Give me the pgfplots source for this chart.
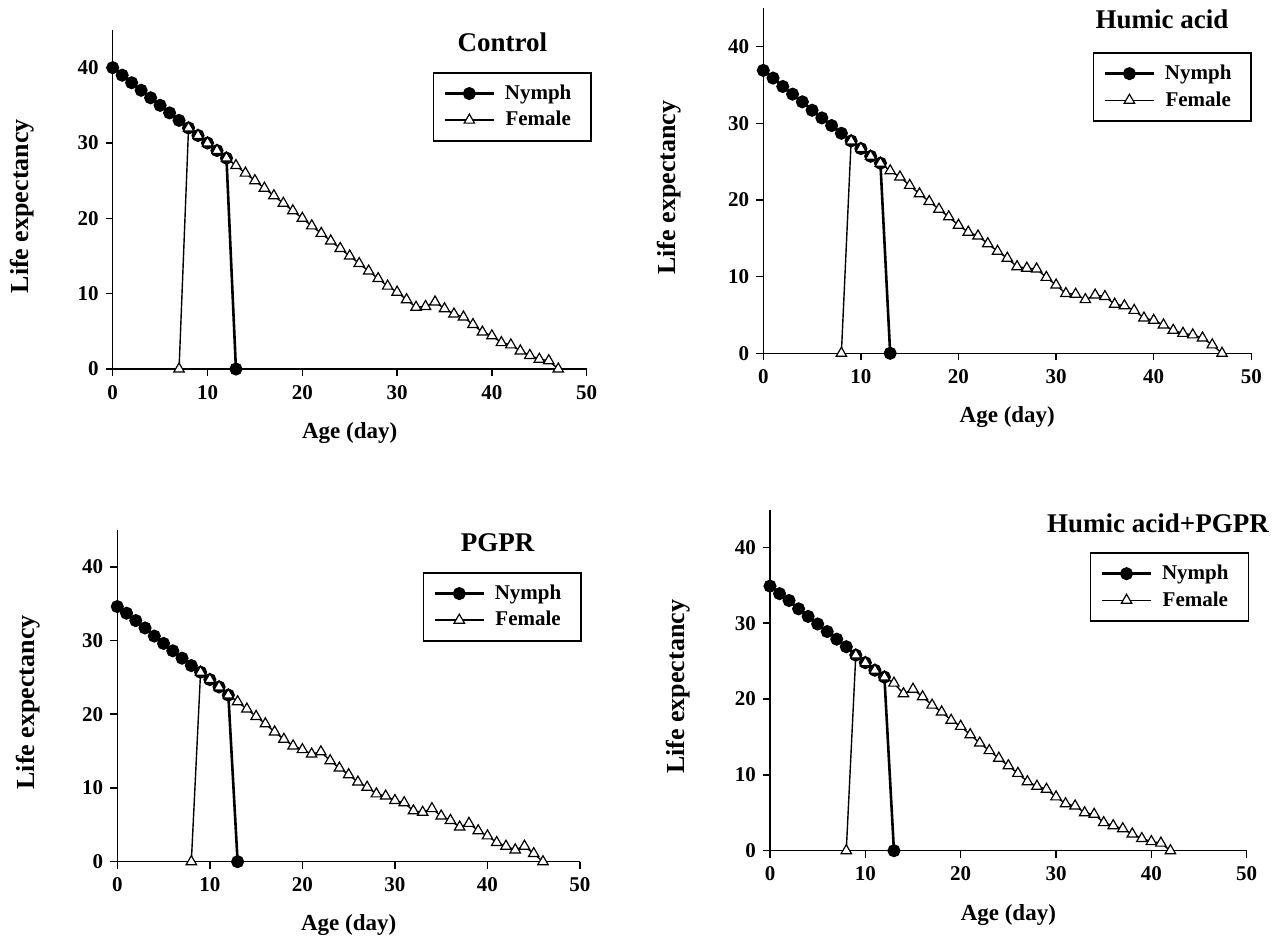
\documentclass[border=0pt]{standalone}
\usepackage{fontspec}
\setmainfont{Liberation Serif}
\usepackage{pgfplots}
\pgfplotsset{compat=1.18}

\newcommand{\ticfont}{\fontsize{10.5}{12}\selectfont\bfseries}
\newcommand{\legfont}{\fontsize{10.5}{12}\selectfont\bfseries}
\newcommand{\ttlfont}{\fontsize{13.5}{15}\selectfont\bfseries}
\newcommand{\leg}[1]{\makebox[39pt][c]{#1}}

\pgfplotsset{lifeplot/.style={
  scale only axis, axis lines=left, axis line style={-, line width=0.75pt},
  xmin=0, xmax=50, ymin=0, ymax=45,
  xtick={0,10,...,50}, ytick={0,10,...,40},
  tick align=outside, major tick length=3.5pt, tick style={black, line width=0.75pt},
  /pgf/number format/assume math mode=true,
  tick label style={font=\ticfont},
  xticklabel style={yshift=-1pt},
  xlabel={Age (day)}, ylabel={Life expectancy},
  xlabel style={font=\fontsize{11.5}{13}\selectfont\bfseries, at={(axis description cs:0.5,0)}, anchor=center, yshift=-32pt},
  ylabel style={font=\fontsize{13}{15}\selectfont\bfseries, at={(axis description cs:-0.192,0.48)}, anchor=center},
  clip=false,
  legend style={font=\legfont, draw=black, line width=0.75pt, anchor=north east, inner xsep=5pt, inner ysep=4pt, row sep=0.5pt},
  legend cell align=center,
  legend image code/.code={\draw[mark repeat=2, mark phase=2] plot coordinates {(0pt,0pt) (12.25pt,0pt) (24.5pt,0pt)};},
  nymph/.style={black, line width=1.3pt, mark=*, mark size=2.6pt, mark options={solid, fill=black}},
  female/.style={black, line width=0.7pt, mark=triangle*, mark size=3pt, mark options={solid, fill=white, line width=0.6pt}}
}}

\begin{document}
\begin{tikzpicture}
\useasboundingbox (0,0) rectangle (643.5pt,469pt);

% Control
\begin{axis}[lifeplot, at={(56.35pt,284.5pt)}, anchor=south west, width=237pt, height=169.5pt,
  legend style={at={(1.011,0.876)}}]
\addplot[nymph] coordinates {(0,40) (1,39) (2,38) (3,37) (4,36) (5,35) (6,34) (7,33) (8,32) (9,31) (10,30) (11,29) (12,28) (13,0)};
\addlegendentry{\leg{Nymph}}
\addplot[female] coordinates {(7,0) (8,32) (9,31) (10,30) (11,29) (12,28) (13,27) (14,26) (15,25) (16,24) (17,23) (18,22) (19,21) (20,20) (21,19) (22,18) (23,17) (24,16) (25,15) (26,14) (27,13) (28,12) (29,11) (30,10.2) (31,9.2) (32,8.2) (33,8.3) (34,8.9) (35,8.0) (36,7.3) (37,6.9) (38,5.9) (39,4.9) (40,4.4) (41,3.5) (42,3.2) (43,2.4) (44,1.8) (45,1.3) (46,1.1) (47,0)};
\addlegendentry{\leg{Female}}
\node[font=\ttlfont] at (axis cs:41.1,43.4) {Control};
\end{axis}

% Humic acid
\begin{axis}[lifeplot, at={(381.65pt,292.35pt)}, anchor=south west, width=244pt, height=172.5pt,
  legend style={at={(1.0014,0.873)}}]
\addplot[nymph] coordinates {(0,36.9) (1,35.9) (2,34.8) (3,33.8) (4,32.8) (5,31.7) (6,30.7) (7,29.7) (8,28.7) (9,27.7) (10,26.7) (11,25.7) (12,24.8) (13,0)};
\addlegendentry{\leg{Nymph}}
\addplot[female] coordinates {(8,0) (9,27.7) (10,26.7) (11,25.7) (12,24.8) (13,23.8) (14,23.0) (15,21.9) (16,20.8) (17,19.8) (18,18.8) (19,17.8) (20,16.7) (21,15.8) (22,15.3) (23,14.3) (24,13.3) (25,12.4) (26,11.3) (27,11.1) (28,11.0) (29,9.9) (30,8.9) (31,7.8) (32,7.7) (33,7.0) (34,7.6) (35,7.4) (36,6.4) (37,6.2) (38,5.6) (39,4.6) (40,4.3) (41,3.7) (42,3.0) (43,2.6) (44,2.4) (45,2.0) (46,1.1) (47,0)};
\addlegendentry{\leg{Female}}
\node[font=\ttlfont] at (axis cs:40.85,43.5) {Humic acid};
\end{axis}

% PGPR
\begin{axis}[lifeplot, at={(58.65pt,38.15pt)}, anchor=south west, width=231.35pt, height=165.9pt,
  xlabel style={yshift=0.5pt}, legend style={at={(1.004,0.873)}}]
\addplot[nymph] coordinates {(0,34.6) (1,33.7) (2,32.7) (3,31.7) (4,30.6) (5,29.6) (6,28.6) (7,27.6) (8,26.6) (9,25.7) (10,24.7) (11,23.7) (12,22.6) (13,0)};
\addlegendentry{\leg{Nymph}}
\addplot[female] coordinates {(8,0) (9,25.7) (10,24.7) (11,23.7) (12,22.6) (13,21.7) (14,20.7) (15,19.7) (16,18.7) (17,17.6) (18,16.6) (19,15.7) (20,15.2) (21,14.6) (22,14.9) (23,13.7) (24,12.7) (25,11.8) (26,10.8) (27,10.1) (28,9.2) (29,8.9) (30,8.3) (31,8.0) (32,6.9) (33,6.7) (34,7.2) (35,6.2) (36,5.6) (37,4.7) (38,5.2) (39,4.2) (40,3.5) (41,2.6) (42,2.1) (43,1.6) (44,2.1) (45,1.1) (46,0)};
\addlegendentry{\leg{Female}}
\node[font=\ttlfont] at (axis cs:41.1,43.2) {PGPR};
\end{axis}

% Humic acid+PGPR
\begin{axis}[lifeplot, at={(385pt,43.65pt)}, anchor=south west, width=238.35pt, height=170.6pt,
  legend style={at={(1.005,0.875)}}]
\addplot[nymph] coordinates {(0,34.9) (1,33.9) (2,33.0) (3,31.9) (4,30.9) (5,29.9) (6,28.9) (7,27.9) (8,26.9) (9,25.8) (10,24.8) (11,23.8) (12,22.9) (13,0)};
\addlegendentry{\leg{Nymph}}
\addplot[female] coordinates {(8,0) (9,25.8) (10,24.8) (11,23.8) (12,22.9) (13,22.1) (14,20.7) (15,21.3) (16,20.3) (17,19.2) (18,18.3) (19,17.2) (20,16.4) (21,15.3) (22,14.2) (23,13.2) (24,12.2) (25,11.2) (26,10.2) (27,9.1) (28,8.5) (29,8.1) (30,7.1) (31,6.2) (32,5.9) (33,5.0) (34,4.8) (35,3.7) (36,3.3) (37,2.9) (38,2.2) (39,1.6) (40,1.2) (41,1.0) (42,0)};
\addlegendentry{\leg{Female}}
\node[font=\ttlfont] at (axis cs:40.7,43.2) {Humic acid+PGPR};
\end{axis}
\end{tikzpicture}
\end{document}
